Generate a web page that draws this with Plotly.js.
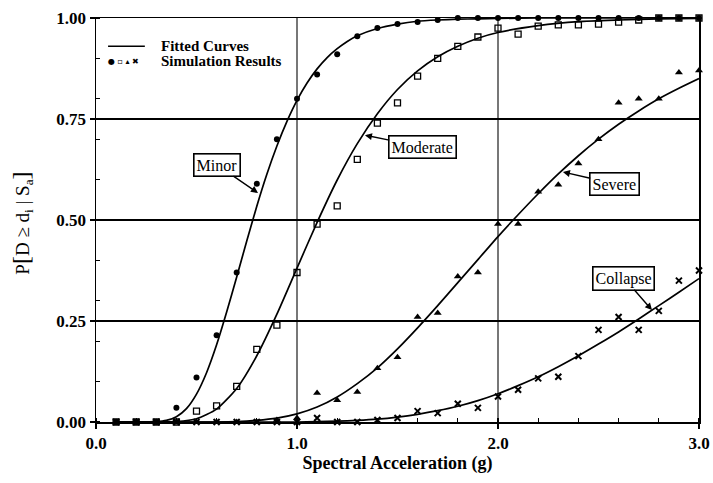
<!DOCTYPE html>
<html>
<head>
<meta charset="utf-8">
<script src="https://cdn.plot.ly/plotly-3.0.1.min.js"></script>
<style>html,body{margin:0;padding:0;background:#fff;}#chart{width:713px;height:483px;}</style>
</head>
<body>
<div id="chart"></div>
<script>
// Simulation sample points (Sa, g)
const simX = [0.1,0.2,0.3,0.4,0.5,0.6,0.7,0.8,0.9,1.0,1.1,1.2,1.3,1.4,1.5,1.6,1.7,1.8,1.9,2.0,2.1,2.2,2.3,2.4,2.5,2.6,2.7,2.8,2.9,3.0];
const simMinor    = [0,0,0,0.035,0.11,0.215,0.37,0.59,0.70,0.80,0.86,0.91,0.955,0.975,0.985,0.99,0.995,1,1,1,1,1,1,1,1,1,1,1,1,1];
const simModerate = [0,0,0,0,0.027,0.04,0.088,0.18,0.24,0.37,0.49,0.535,0.65,0.74,0.79,0.856,0.90,0.93,0.953,0.975,0.96,0.98,0.983,0.983,0.985,0.99,0.995,1,1,1];
const simSevere   = [0,0,0,0,0,0,0,0,0.005,0.01,0.072,0.054,0.074,0.133,0.16,0.26,0.27,0.36,0.37,0.49,0.49,0.57,0.587,0.64,0.70,0.79,0.80,0.80,0.865,0.87];
const simCollapse = [0,0,0,0,0,0,0,0,0,0,0.01,0,0,0.005,0.01,0.027,0.022,0.045,0.035,0.063,0.08,0.108,0.112,0.163,0.228,0.26,0.228,0.275,0.35,0.375];

// Fitted curves
const fitMinorX = [0.1,0.2,0.3,0.35,0.4,0.45,0.5,0.55,0.6,0.65,0.7,0.75,0.8,0.85,0.9,0.95,1.0,1.05,1.1,1.15,1.2,1.25,1.3,1.4,1.5,1.6,1.7,1.8,1.9,2.0,2.2,2.5,3.0];
const fitMinorY = [0,0,0.001,0.004,0.013,0.033,0.069,0.122,0.191,0.272,0.359,0.448,0.534,0.613,0.683,0.744,0.796,0.839,0.874,0.902,0.924,0.942,0.956,0.974,0.985,0.992,0.995,0.997,0.998,0.999,1,1,1];
const fitModX = [0.1,0.2,0.3,0.4,0.5,0.6,0.7,0.8,0.9,1.0,1.1,1.2,1.3,1.4,1.5,1.6,1.7,1.8,1.9,2.0,2.2,2.4,2.6,2.8,3.0];
const fitModY = [0,0,0,0.001,0.008,0.032,0.083,0.164,0.267,0.381,0.494,0.599,0.689,0.763,0.823,0.869,0.904,0.930,0.950,0.964,0.981,0.991,0.995,0.998,0.999];
const fitSevX = [0.1,0.3,0.5,0.6,0.7,0.8,0.9,1.0,1.1,1.2,1.3,1.4,1.5,1.6,1.7,1.8,1.9,2.0,2.1,2.2,2.3,2.4,2.5,2.6,2.7,2.8,2.9,3.0];
const fitSevY = [0,0,0,0,0.001,0.004,0.0095,0.020,0.037,0.062,0.095,0.134,0.181,0.233,0.288,0.345,0.402,0.459,0.513,0.565,0.614,0.659,0.700,0.737,0.770,0.800,0.826,0.850];
const fitColX = [0.1,0.5,0.8,1.0,1.1,1.2,1.3,1.4,1.5,1.6,1.7,1.8,1.9,2.0,2.1,2.2,2.3,2.4,2.5,2.6,2.7,2.8,2.9,3.0];
const fitColY = [0,0,0,0,0.001,0.002,0.004,0.007,0.012,0.019,0.028,0.039,0.053,0.070,0.090,0.112,0.137,0.164,0.193,0.223,0.255,0.288,0.321,0.355];

// Text
const xTitle = 'Spectral Acceleration (g)';
const yTitle = 'P<span style="font-size:24px">[</span>D ≥ d<sub>i</sub> | S<sub>a</sub><span style="font-size:24px">]</span>';
const stateLabels = ['Minor','Moderate','Severe','Collapse'];
const legendLine = 'Fitted Curves';
const legendMarks = 'Simulation Results';

const FONT = 'Liberation Serif, Times New Roman, serif';
const lineStyle = {color:'#000', width:1.7, shape:'spline', smoothing:0.6};

const traces = [
  {x:fitMinorX, y:fitMinorY, mode:'lines', line:lineStyle, hoverinfo:'skip'},
  {x:fitModX, y:fitModY, mode:'lines', line:lineStyle, hoverinfo:'skip'},
  {x:fitSevX, y:fitSevY, mode:'lines', line:lineStyle, hoverinfo:'skip'},
  {x:fitColX, y:fitColY, mode:'lines', line:lineStyle, hoverinfo:'skip'},
  {x:simX, y:simMinor, mode:'markers', marker:{symbol:'circle', size:6, color:'#000'}, cliponaxis:false},
  {x:simX, y:simModerate, mode:'markers', marker:{symbol:'square-open', size:6, color:'#000', line:{width:1.3}}, cliponaxis:false},
  {x:simX, y:simSevere, mode:'markers', marker:{symbol:'triangle-up', size:7, color:'#000'}, cliponaxis:false},
  {x:simX, y:simCollapse, mode:'markers', marker:{symbol:'x-thin-open', size:6, color:'#000', line:{width:2, color:'#000'}}, cliponaxis:false}
];

const labelTips = [[0.806,0.567,-41,-28],[1.338,0.710,58,12],[2.323,0.619,52,12],[2.766,0.277,-28,-32]];
const annotations = stateLabels.map((t,i)=>({
  x:labelTips[i][0], y:labelTips[i][1], xref:'x', yref:'y',
  ax:labelTips[i][2], ay:labelTips[i][3], text:t, showarrow:true,
  arrowhead:2, arrowsize:1, arrowwidth:1.4, arrowcolor:'#000',
  bordercolor:'#000', borderwidth:1.6, borderpad:2, bgcolor:'#fff',
  font:{family:FONT, size:16, color:'#000'}
}));
annotations.push(
  {xref:'paper', yref:'paper', x:0.105, y:0.93, xanchor:'left', yanchor:'middle', text:legendLine, showarrow:false, font:{family:FONT, size:15, color:'#000', weight:'bold'}},
  {xref:'paper', yref:'paper', x:0.105, y:0.893, xanchor:'left', yanchor:'middle', text:legendMarks, showarrow:false, font:{family:FONT, size:15, color:'#000', weight:'bold'}},
  {xref:'paper', yref:'paper', x:0.016, y:0.893, xanchor:'left', yanchor:'middle', text:'● ▫ ▴ ✖', showarrow:false, font:{family:'DejaVu Sans', size:8, color:'#000'}},
  {xref:'paper', yref:'paper', x:-0.123, y:0.493, xanchor:'center', yanchor:'middle', textangle:-90, text:yTitle, showarrow:false, font:{family:FONT, size:19, color:'#000'}}
);

const layout = {
  width:713, height:483,
  margin:{l:96, r:14, t:18, b:61},
  paper_bgcolor:'#fff', plot_bgcolor:'#fff',
  showlegend:false,
  font:{family:FONT, color:'#000'},
  xaxis:{
    range:[0,3], dtick:1, tick0:0, tickformat:'.1f',
    showline:true, linecolor:'#000', linewidth:1.5, mirror:true,
    ticks:'outside', ticklen:5, tickwidth:1.3, tickcolor:'#000',
    showgrid:true, gridcolor:'#777', gridwidth:1.5, zeroline:false,
    minor:{dtick:0.2, ticks:'inside', ticklen:4, tickwidth:1.2, tickcolor:'#000', showgrid:false},
    tickfont:{family:FONT, size:17, color:'#000', weight:'bold'},
    title:{text:xTitle, font:{family:FONT, size:18, color:'#000', weight:'bold'}, standoff:2}
  },
  yaxis:{
    range:[0,1], dtick:0.25, tick0:0, tickformat:'.2f',
    showline:true, linecolor:'#000', linewidth:1.5, mirror:true,
    ticks:'outside', ticklen:5, tickwidth:1.3, tickcolor:'#000',
    showgrid:true, gridcolor:'#000', gridwidth:1.5, zeroline:false,
    minor:{dtick:0.1, ticks:'inside', ticklen:4, tickwidth:1.2, tickcolor:'#000', showgrid:false},
    tickfont:{family:FONT, size:17, color:'#000', weight:'bold'}
  },
  shapes:[
    {type:'line', xref:'paper', yref:'paper', x0:0.02, x1:0.081, y0:0.93, y1:0.93, line:{color:'#000', width:1.5}}
  ],
  annotations:annotations
};

Plotly.newPlot('chart', traces, layout, {staticPlot:true, displayModeBar:false});
</script>
</body>
</html>
